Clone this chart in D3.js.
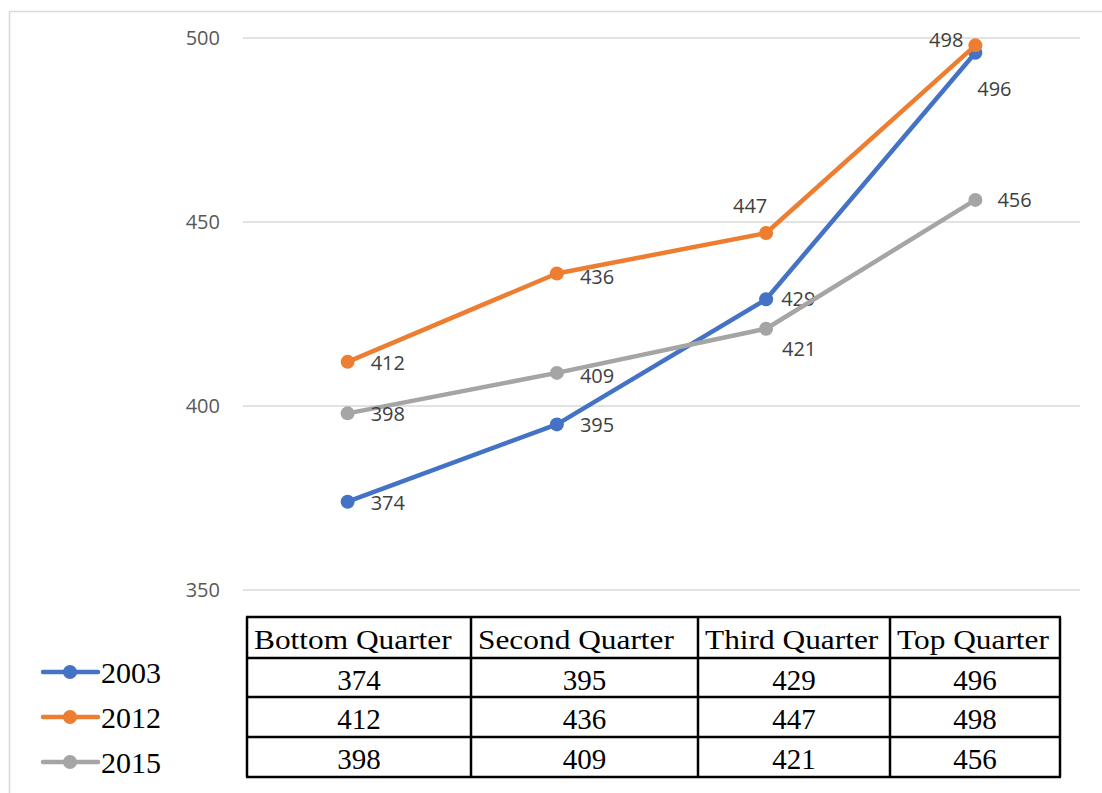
<!DOCTYPE html>
<html>
<head>
<meta charset="utf-8">
<script src="https://cdn.jsdelivr.net/npm/d3@7"></script>
<style>
  body { margin: 0; background: #fff; }
  svg { display: block; }
</style>
</head>
<body>
<svg id="chart" width="1102" height="793"></svg>
<script>
var categories = ["Bottom Quarter", "Second Quarter", "Third Quarter", "Top Quarter"];
var years = ["2003", "2012", "2015"];
var values2003 = [374, 395, 429, 496];
var values2012 = [412, 436, 447, 498];
var values2015 = [398, 409, 421, 456];
var yTicks = [350, 400, 450, 500];

var colors = ["#4472C4", "#ED7D31", "#A5A5A5"];
// where each data label sits relative to its point [dx, dy, anchor]
var labelPos = [
    [[23, 1, "start"], [23, 1, "start"], [15, 0, "start"], [19, 36, "middle"]],
    [[23, 1, "start"], [23, 3, "start"], [-16, -27, "middle"], [-12, -5, "end"]],
    [[23, 1, "start"], [23, 3, "start"], [33, 20, "middle"], [22, 0, "start"]]
];

var series = years.map(function (y, i) {
    return { year: y, values: [values2003, values2012, values2015][i], color: colors[i], labels: labelPos[i] };
});

var svg = d3.select("#chart");
var sans = "'Open Sans', 'Noto Sans', sans-serif";
var serif = "'Liberation Serif', 'Times New Roman', serif";

// outer frame
svg.append("rect")
    .attr("x", 9.5).attr("y", 11.5)
    .attr("width", 1110).attr("height", 800)
    .attr("fill", "none")
    .attr("stroke", "#d9d9d9")
    .attr("stroke-width", 1.5);

var x = d3.scaleBand().domain(categories).range([243, 1080]);
var y = d3.scaleLinear().domain([350, 500]).range([590, 38]);
var cx = function (c) { return x(c) + x.bandwidth() / 2; };

// gridlines + tick labels
var grid = svg.append("g");
grid.selectAll("line").data(yTicks).enter().append("line")
    .attr("x1", 243).attr("x2", 1080)
    .attr("y1", function (d) { return y(d); })
    .attr("y2", function (d) { return y(d); })
    .attr("stroke", "#d9d9d9")
    .attr("stroke-width", 1.5);
grid.selectAll("text").data(yTicks).enter().append("text")
    .attr("x", 220)
    .attr("y", function (d) { return y(d); })
    .attr("dy", "0.35em")
    .attr("text-anchor", "end")
    .attr("fill", "#595959")
    .style("font-family", sans)
    .style("font-size", "20px")
    .text(function (d) { return d; });

var line = d3.line()
    .x(function (d, i) { return cx(categories[i]); })
    .y(function (d) { return y(d); });

var g = svg.selectAll("g.series").data(series).enter().append("g").attr("class", "series");

g.append("path")
    .attr("d", function (d) { return line(d.values); })
    .attr("fill", "none")
    .attr("stroke", function (d) { return d.color; })
    .attr("stroke-width", 4.5)
    .attr("stroke-linejoin", "round");

g.selectAll("circle")
    .data(function (d) { return d.values.map(function (v, i) { return { v: v, i: i, color: d.color }; }); })
    .enter().append("circle")
    .attr("cx", function (d) { return cx(categories[d.i]); })
    .attr("cy", function (d) { return y(d.v); })
    .attr("r", 7)
    .attr("fill", function (d) { return d.color; });

g.selectAll("text")
    .data(function (d) { return d.values.map(function (v, i) { return { v: v, i: i, p: d.labels[i] }; }); })
    .enter().append("text")
    .attr("x", function (d) { return cx(categories[d.i]) + d.p[0]; })
    .attr("y", function (d) { return y(d.v) + d.p[1]; })
    .attr("dy", "0.35em")
    .attr("text-anchor", function (d) { return d.p[2]; })
    .attr("fill", "#404040")
    .style("font-family", sans)
    .style("font-size", "20px")
    .text(function (d) { return d.v; });

// data table
var colEdges = [247, 471, 698, 890, 1060];
var rowEdges = [617, 658, 697, 737, 777];
var table = svg.append("g");

table.selectAll("text.head").data(categories).enter().append("text")
    .attr("class", "head")
    .attr("x", function (d, i) { return colEdges[i] + 7; })
    .attr("y", (rowEdges[0] + rowEdges[1]) / 2 + 2)
    .attr("dy", "0.35em")
    .style("font-family", serif)
    .style("font-size", "28px")
    .text(function (d) { return d; })
    .each(function () {
        var len = this.getComputedTextLength();
        d3.select(this).attr("textLength", len * 1.12).attr("lengthAdjust", "spacingAndGlyphs");
    });

series.forEach(function (s, r) {
    table.selectAll("text.r" + r).data(s.values).enter().append("text")
        .attr("class", "r" + r)
        .attr("x", function (d, i) { return (colEdges[i] + colEdges[i + 1]) / 2; })
        .attr("y", (rowEdges[r + 1] + rowEdges[r + 2]) / 2 + 2)
        .attr("dy", "0.35em")
        .attr("text-anchor", "middle")
        .style("font-family", serif)
        .style("font-size", "29px")
        .text(function (d) { return d; });
});

table.selectAll("line.h").data(rowEdges).enter().append("line")
    .attr("x1", colEdges[0] - 1).attr("x2", colEdges[colEdges.length - 1] + 1)
    .attr("y1", function (d) { return d; }).attr("y2", function (d) { return d; })
    .attr("stroke", "#000").attr("stroke-width", 2.5);
table.selectAll("line.v").data(colEdges).enter().append("line")
    .attr("y1", rowEdges[0]).attr("y2", rowEdges[rowEdges.length - 1])
    .attr("x1", function (d) { return d; }).attr("x2", function (d) { return d; })
    .attr("stroke", "#000").attr("stroke-width", 2.5);

// legend keys beside the table rows
var legend = svg.selectAll("g.legend").data(series).enter().append("g")
    .attr("class", "legend")
    .attr("transform", function (d, i) { return "translate(0," + (rowEdges[1] + 14 + i * 45) + ")"; });
legend.append("line")
    .attr("x1", 43).attr("x2", 98)
    .attr("stroke", function (d) { return d.color; })
    .attr("stroke-width", 4.5)
    .attr("stroke-linecap", "round");
legend.append("circle")
    .attr("cx", 70).attr("r", 7)
    .attr("fill", function (d) { return d.color; });
legend.append("text")
    .attr("x", 101)
    .attr("dy", "0.35em")
    .style("font-family", serif)
    .style("font-size", "30px")
    .text(function (d) { return d.year; });
</script>
</body>
</html>
